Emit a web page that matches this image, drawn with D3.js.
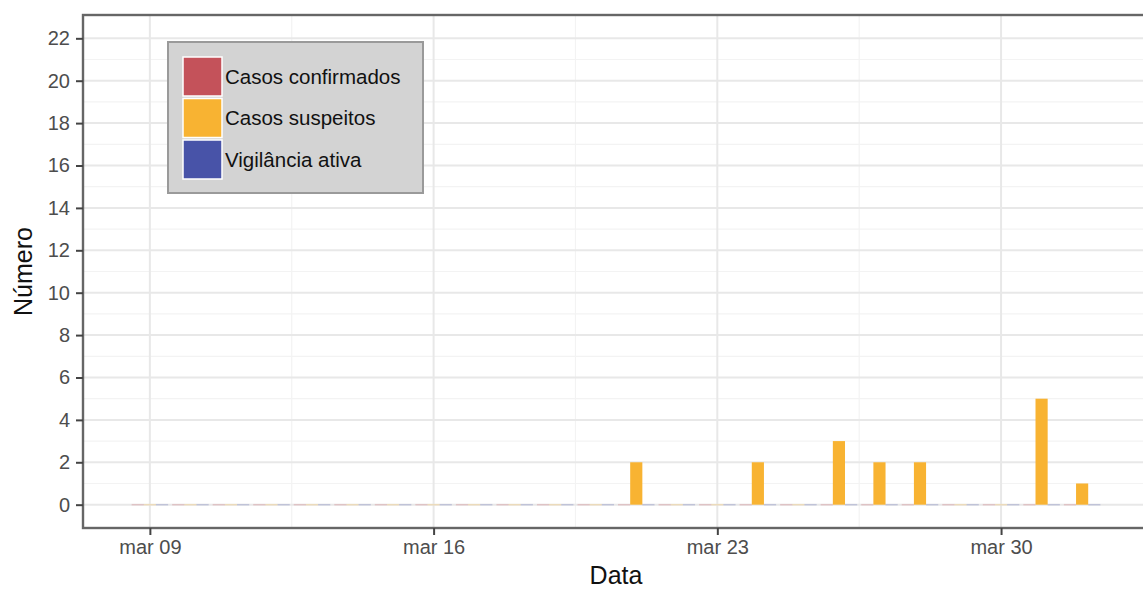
<!DOCTYPE html>
<html>
<head>
<meta charset="utf-8">
<script src="https://cdn.jsdelivr.net/npm/d3@7"></script>
<style>
  body { margin: 0; background: #fff; }
  svg { display: block; font-family: "Liberation Sans", Arial, sans-serif; }
</style>
</head>
<body>
<svg id="chart" width="1143" height="590"></svg>
<script>
// data: daily counts, 09 Mar to 01 Apr 2020
const startDate = new Date(2020, 2, 9);
const nDays = 24;
const series = ["Casos confirmados", "Casos suspeitos", "Vigilância ativa"];
const colors = ["#c4525a", "#f8b332", "#4853a8"];
const confirmados = [0,0,0,0,0,0,0,0,0,0,0,0,0,0,0,0,0,0,0,0,0,0,0,0];
const suspeitos   = [0,0,0,0,0,0,0,0,0,0,0,0,2,0,0,2,0,3,2,2,0,0,5,1];
const vigilancia  = [0,0,0,0,0,0,0,0,0,0,0,0,0,0,0,0,0,0,0,0,0,0,0,0];
const yTicks = d3.range(0, 23, 2);
const xTickDates = [new Date(2020,2,9), new Date(2020,2,16), new Date(2020,2,23), new Date(2020,2,30)];

const values = [confirmados, suspeitos, vigilancia];
const dates = d3.range(nDays).map(i => d3.timeDay.offset(startDate, i));
const rows = [];
dates.forEach((d, i) => {
  values.forEach((v, s) => rows.push({date: d, s: s, v: v[i]}));
});

const svg = d3.select("#chart");
const mLeft = 83, mRight = 1149, mTop = 15, mBottom = 528;
const DAY = 864e5;

const x = d3.scaleTime()
  .domain([new Date(+startDate - 1.65 * DAY), new Date(+startDate + (nDays - 1 + 1.65) * DAY)])
  .range([mLeft, mRight]);
const y = d3.scaleLinear().domain([-1.1, 23.1]).range([mBottom, mTop]);
const dayW = x(new Date(+startDate + DAY)) - x(startDate);
const barW = dayW * 0.9 / 3;

const panel = svg.append("g");
panel.append("rect").attr("x", mLeft).attr("y", mTop)
  .attr("width", mRight - mLeft).attr("height", mBottom - mTop).attr("fill", "#fff");

// minor grid
const minorY = d3.range(1, 23, 2);
panel.selectAll(".minory").data(minorY).join("line")
  .attr("x1", mLeft).attr("x2", mRight)
  .attr("y1", d => y(d)).attr("y2", d => y(d))
  .attr("stroke", "#f3f3f3").attr("stroke-width", 1.2);
const minorX = xTickDates.slice(0, -1).map(d => new Date(+d + 3.5 * DAY));
panel.selectAll(".minorx").data(minorX).join("line")
  .attr("y1", mTop).attr("y2", mBottom)
  .attr("x1", d => x(d)).attr("x2", d => x(d))
  .attr("stroke", "#f3f3f3").attr("stroke-width", 1.2);
// major grid
panel.selectAll(".majory").data(yTicks).join("line")
  .attr("x1", mLeft).attr("x2", mRight)
  .attr("y1", d => y(d)).attr("y2", d => y(d))
  .attr("stroke", "#e8e8e8").attr("stroke-width", 2);
panel.selectAll(".majorx").data(xTickDates).join("line")
  .attr("y1", mTop).attr("y2", mBottom)
  .attr("x1", d => x(d)).attr("x2", d => x(d))
  .attr("stroke", "#e8e8e8").attr("stroke-width", 2);

// bars (dodged), zero counts leave only a faint trace
svg.append("g").selectAll("rect").data(rows).join("rect")
  .attr("x", d => x(d.date) + (d.s - 1) * barW - barW / 2)
  .attr("width", barW)
  .attr("y", d => d.v > 0 ? y(d.v) : y(0) - 0.75)
  .attr("height", d => d.v > 0 ? y(0) - y(d.v) : 1.5)
  .attr("fill", d => colors[d.s])
  .attr("fill-opacity", d => d.v > 0 ? 1 : 0.25);

// panel border
svg.append("rect").attr("x", mLeft).attr("y", mTop)
  .attr("width", mRight - mLeft).attr("height", mBottom - mTop)
  .attr("fill", "none").attr("stroke", "#666").attr("stroke-width", 2.4);

// axes
const yAxis = svg.append("g").attr("transform", `translate(${mLeft},0)`)
  .call(d3.axisLeft(y).tickValues(yTicks).tickSize(7).tickPadding(6));
const xAxis = svg.append("g").attr("transform", `translate(0,${mBottom})`)
  .call(d3.axisBottom(x).tickValues(xTickDates).tickSize(7).tickPadding(5)
    .tickFormat(d => d3.timeFormat("%b %d")(d).toLowerCase()));
[yAxis, xAxis].forEach(a => {
  a.select(".domain").remove();
  a.selectAll(".tick line").attr("stroke", "#444").attr("stroke-width", 2);
  a.selectAll(".tick text").attr("fill", "#4d4d4d")
    .style("font-size", "20px").style("font-family", "Liberation Sans, Arial, sans-serif");
});

// titles
svg.append("text").attr("x", (mLeft + mRight) / 2).attr("y", 584)
  .attr("text-anchor", "middle").attr("font-size", 25).attr("fill", "#111").text("Data");
svg.append("text").attr("transform", `translate(32,${(mTop + mBottom) / 2}) rotate(-90)`)
  .attr("text-anchor", "middle").attr("font-size", 25).attr("fill", "#111").text("Número");

// legend
const lg = svg.append("g").attr("transform", "translate(168,42)");
lg.append("rect").attr("width", 255).attr("height", 151)
  .attr("fill", "#d3d3d3").attr("stroke", "#9a9a9a").attr("stroke-width", 2);
const items = lg.selectAll(".item").data(series).join("g")
  .attr("transform", (d, i) => `translate(15,${15 + i * 41.5})`);
items.append("rect").attr("width", 39).attr("height", 39)
  .attr("fill", (d, i) => colors[i]).attr("stroke", "#fff").attr("stroke-width", 1.5);
items.append("text").attr("x", 42).attr("y", 19.5).attr("dy", "0.36em")
  .attr("font-size", 20.5).attr("fill", "#111").text(d => d);
</script>
</body>
</html>
